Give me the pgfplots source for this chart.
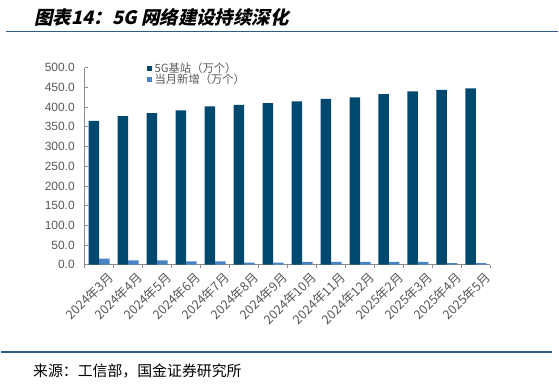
\documentclass[border=0pt]{standalone}
\usepackage{fontspec}
\setmainfont{Liberation Sans}
\newfontfamily\cjk{Noto Sans CJK SC}
\newfontfamily\cjktitle{Noto Sans CJK SC}[BoldFeatures={FakeSlant=0.22}]
\usepackage{pgfplots}
\pgfplotsset{compat=1.18}
\definecolor{darkbar}{RGB}{0,73,110}
\definecolor{lightbar}{RGB}{72,132,196}
\definecolor{txtgray}{RGB}{89,89,89}
\definecolor{axgray}{RGB}{140,140,140}
\definecolor{rulecol}{RGB}{46,94,134}
\begin{document}
\begin{tikzpicture}[x=0.75pt,y=0.75pt]
\path (0,0) rectangle (559,385);
\draw[rulecol,line width=1.2pt] (5,353.5) -- (559,353.5);
\draw[rulecol,line width=1.5pt] (0,32) -- (553,32);
\node[anchor=west,inner sep=0pt] at (33,368) {\fontsize{13.9}{15}\selectfont\cjktitle\bfseries 图表14：5G 网络建设持续深化};
\node[anchor=west,inner sep=0pt] at (32,12.5) {\fontsize{11.2}{13}\selectfont\cjk 来源：工信部，国金证券研究所};
\begin{axis}[
  at={(63pt,89.625pt)}, anchor=south west,
  scale only axis, width=305.25pt, height=148.1pt,
  xmin=-0.5, xmax=13.5, ymin=0, ymax=500,
  axis x line*=bottom, axis y line*=left,
  axis line style={axgray, line width=0.6pt},
  ytick distance=50,
  tick label style={font=\fontsize{9}{10}\selectfont, text=txtgray},
  yticklabel style={xshift=-4pt, /pgf/number format/.cd, fixed, fixed zerofill, precision=1, assume math mode=true},
  tick align=inside, major tick length=2.5pt,
  tick style={axgray, line width=0.6pt},
  xtick={-0.5,0.5,...,13.5}, xticklabels={},
  extra x ticks={0,1,2,3,4,5,6,7,8,9,10,11,12,13},
  extra x tick labels={2024年3月,2024年4月,2024年5月,2024年6月,2024年7月,2024年8月,2024年9月,2024年10月,2024年11月,2024年12月,2025年2月,2025年3月,2025年4月,2025年5月},
  extra x tick style={major tick length=0pt, tick label style={font=\fontsize{9.5}{10}\selectfont\cjk, text=txtgray, rotate=45, anchor=north east, inner sep=1pt, xshift=2pt, yshift=-6pt}},
  ybar=0pt, bar width=7.9pt,
  legend style={at={(axis description cs:0.152,1.04)}, anchor=north west, draw=none, fill=none,
    font=\fontsize{8.5}{9}\selectfont\cjk, text=txtgray, inner sep=0pt, row sep=-4.5pt,
    legend cell align=left},
  legend image code/.code={\fill[#1] (0pt,-2pt) rectangle (4pt,2pt);},
]
\addplot[fill=darkbar, draw=none] coordinates {
(0,365) (1,377) (2,385) (3,392) (4,402) (5,406) (6,410) (7,415) (8,421) (9,425) (10,433) (11,440) (12,444) (13,448)};
\addplot[fill=lightbar, draw=none] coordinates {
(0,15) (1,11) (2,11) (3,8) (4,8) (5,5) (6,5) (7,7) (8,7) (9,7) (10,7) (11,7) (12,4) (13,4)};
\legend{5G基站（万个）,当月新增（万个）}
\end{axis}
\end{tikzpicture}
\end{document}
